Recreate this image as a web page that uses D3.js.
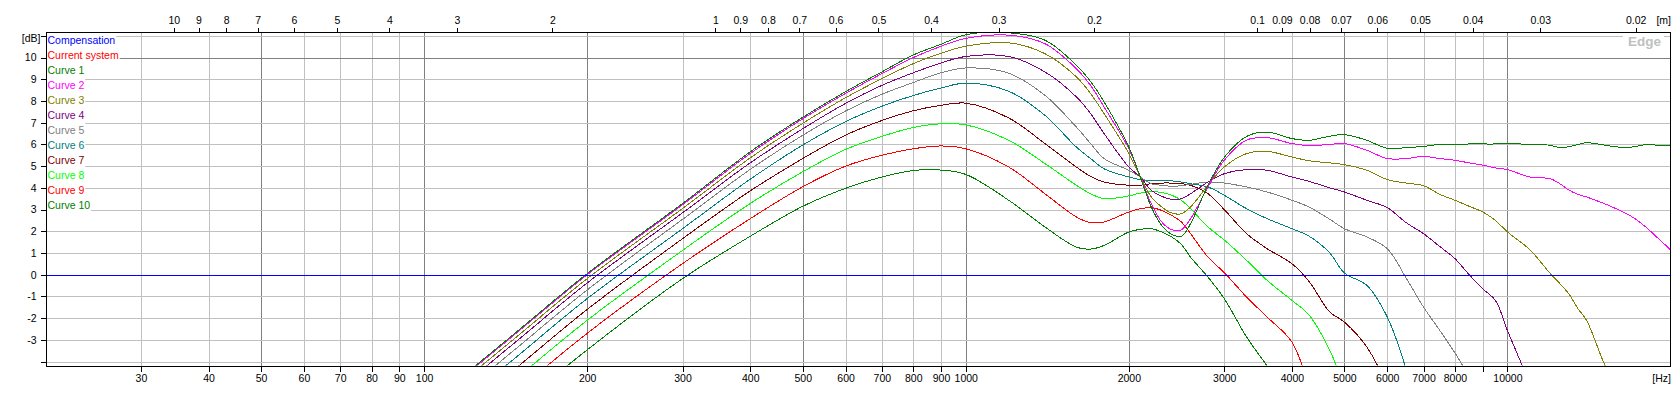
<!DOCTYPE html>
<html>
<head>
<meta charset="utf-8">
<script src="https://cdn.jsdelivr.net/npm/d3@7"></script>
<style>
  html, body { margin: 0; padding: 0; background: #ffffff; }
  svg { display: block; }
  text { font-family: "Liberation Sans", Arial, sans-serif; font-size: 10.5px; }
</style>
</head>
<body>
<svg id="chart" width="1674" height="397"></svg>
<script>
// ---------------- data ----------------
const freqHz = [100,125,150,200,300,400,500,600,700,800,900,1000,1200,1400,1600,1700,1800,2000,2100,2200,2300,2400,2500,2600,2800,3000,3300,3600,4000,4300,4700,5000,5500,6000,6500,7000,7500,8000,8500,9000,9500,10000,11000,12000,12500,13000,13500,14000,15000,16000,17000,18000,19000,20000];

const curve1 = [-6.15,-4.15,-2.52,0.05,3.28,5.66,7.25,8.43,9.34,10.12,10.61,11.05,11.14,10.8,9.65,8.9,7.96,5.88,4.5,3.12,2.27,1.86,1.77,2.35,4.12,5.4,6.37,6.57,6.27,6.19,6.38,6.45,6.19,5.82,5.85,5.91,6.0,6.0,6.02,6.02,6.02,6.04,6.0,5.96,5.85,5.9,6.0,6.08,5.98,5.88,5.88,5.99,5.96,5.93];
const curve2 = [-6.2,-4.2,-2.57,0.0,3.22,5.58,7.18,8.35,9.26,10.0,10.52,10.88,11.03,10.64,9.49,8.72,7.73,5.8,4.5,3.27,2.43,2.07,2.07,2.58,4.04,5.27,6.2,6.31,6.04,5.95,6.0,6.04,5.73,5.35,5.35,5.45,5.35,5.27,5.15,5.05,4.92,4.84,4.5,4.42,4.19,3.89,3.7,3.58,3.3,3.0,2.66,2.2,1.66,1.15];
const curve3 = [null,-4.38,-2.75,-0.18,3.05,5.38,6.97,8.15,9.03,9.72,10.2,10.52,10.68,10.18,9.11,8.34,7.42,5.58,4.5,3.58,3.12,2.84,2.81,3.12,4.12,4.96,5.58,5.68,5.42,5.25,5.15,5.07,4.81,4.38,4.22,4.1,3.7,3.43,3.15,2.89,2.5,1.97,1.15,0.05,-0.41,-0.9,-1.57,-2.1,-3.95,-5.5,null,null,null,null];
const curve4 = [null,-4.58,-2.95,-0.38,2.85,5.15,6.72,7.89,8.72,9.3,9.75,10.05,10.05,9.34,8.19,7.42,6.5,4.96,4.5,3.89,3.61,3.47,3.5,3.73,4.27,4.65,4.84,4.81,4.5,4.3,4.0,3.81,3.43,3.09,2.4,1.89,1.3,0.74,0.0,-0.65,-1.18,-2.57,-5.0,null,null,null,null,null,null,null,null,null,null,null];
const curve5 = [null,-4.9,-3.27,-0.7,2.55,4.85,6.42,7.54,8.31,8.85,9.3,9.52,9.28,8.26,6.8,6.04,5.35,4.81,4.5,4.19,4.12,4.07,4.1,4.16,4.27,4.22,4.04,3.81,3.43,3.12,2.55,2.12,1.74,1.2,-0.15,-1.49,-2.56,-3.6,-4.7,null,null,null,null,null,null,null,null,null,null,null,null,null,null,null];
const curve6 = [null,-5.3,-3.67,-1.1,2.12,4.4,5.97,7.05,7.76,8.25,8.6,8.82,8.45,7.34,5.88,5.35,4.88,4.5,4.38,4.32,4.32,4.32,4.27,4.19,4.04,3.66,3.04,2.58,2.12,1.78,1.0,0.08,-0.49,-1.95,-4.35,null,null,null,null,null,null,null,null,null,null,null,null,null,null,null,null,null,null,null];
const curve7 = [null,-5.8,-4.17,-1.6,1.66,3.86,5.35,6.43,7.1,7.55,7.8,7.9,7.22,6.04,4.96,4.53,4.27,4.12,4.12,4.19,4.22,4.22,4.19,4.12,3.73,3.0,1.89,1.2,0.51,-0.3,-1.72,-2.18,-3.33,-5.1,null,null,null,null,null,null,null,null,null,null,null,null,null,null,null,null,null,null,null,null];
const curve8 = [null,null,-4.67,-2.1,1.12,3.28,4.74,5.77,6.37,6.78,6.95,6.9,6.19,5.12,4.12,3.73,3.5,3.63,3.76,3.82,3.79,3.66,3.43,3.04,2.2,1.6,0.66,-0.26,-1.18,-1.85,-3.49,-5.2,null,null,null,null,null,null,null,null,null,null,null,null,null,null,null,null,null,null,null,null,null,null];
const curve9 = [null,null,-5.27,-2.7,0.51,2.58,4.05,5.0,5.5,5.8,5.93,5.8,4.96,3.73,2.66,2.4,2.43,2.89,3.04,3.09,2.96,2.73,2.43,1.89,0.81,0.1,-1.03,-1.95,-3.1,-5.2,null,null,null,null,null,null,null,null,null,null,null,null,null,null,null,null,null,null,null,null,null,null,null,null];
const curve10 = [null,null,-6.0,-3.46,-0.18,1.77,3.15,3.98,4.5,4.8,4.82,4.62,3.43,2.2,1.27,1.18,1.35,1.97,2.09,2.12,1.97,1.74,1.4,0.81,-0.11,-1.1,-2.87,-4.2,-5.8,null,null,null,null,null,null,null,null,null,null,null,null,null,null,null,null,null,null,null,null,null,null,null,null,null];

const compensationHz = [20, 20000];
const compensationDb = [0, 0];

const legendNames = ["Compensation","Current system","Curve 1","Curve 2","Curve 3","Curve 4","Curve 5","Curve 6","Curve 7","Curve 8","Curve 9","Curve 10"];
const legendColors = ["#0000ff","#ff0000","#008000","#ff00ff","#808000","#800080","#808080","#008080","#800000","#00ff00","#ff0000","#008000"];
const curveSeries = [curve1,curve2,curve3,curve4,curve5,curve6,curve7,curve8,curve9,curve10];
const curveColors = legendColors.slice(2);

const dbTicks = [-4,-3,-2,-1,0,1,2,3,4,5,6,7,8,9,10,11];
const dbLabels = ["","-3","-2","-1","0","1","2","3","4","5","6","7","8","9","10",""];
const dbMajor = [0,10];

const hzTicks = [30,40,50,60,70,80,90,100,200,300,400,500,600,700,800,900,1000,2000,3000,4000,5000,6000,7000,8000,9000,10000];
const hzLabels = ["30","40","50","60","70","80","90","100","200","300","400","500","600","700","800","900","1000","2000","3000","4000","5000","6000","7000","8000","","10000"];
const hzMajor = [50,100,200,500,1000,2000,5000,10000];

const soundSpeed = 345;
const mTicks = [10,9,8,7,6,5,4,3,2,1,0.9,0.8,0.7,0.6,0.5,0.4,0.3,0.2,0.1,0.09,0.08,0.07,0.06,0.05,0.04,0.03,0.02];
const mLabels = ["10","9","8","7","6","5","4","3","2","1","0.9","0.8","0.7","0.6","0.5","0.4","0.3","0.2","0.1","0.09","0.08","0.07","0.06","0.05","0.04","0.03","0.02"];

// ---------------- layout ----------------
const L = 45.5, R = 1670.5, T = 31.5, B = 365.5;
const svg = d3.select("#chart");
const x = d3.scaleLog().domain([20, 20000]).range([L, R]);
const y = d3.scaleLinear().domain([-4.18, 11.2]).range([B, T]);

svg.append("rect").attr("width",1674).attr("height",397).attr("fill","#fff");

// grid
const grid = svg.append("g").attr("shape-rendering","crispEdges");
const gx = hzTicks.slice().sort((a,b)=>hzMajor.includes(a)-hzMajor.includes(b));
grid.selectAll("line.v").data(gx).join("line")
  .attr("x1", d=>Math.round(x(d))+0.5).attr("x2", d=>Math.round(x(d))+0.5)
  .attr("y1", T).attr("y2", B)
  .attr("stroke", d=>hzMajor.includes(d) ? "#808080" : "#c0c0c0");
const gy = dbTicks.slice().sort((a,b)=>dbMajor.includes(a)-dbMajor.includes(b));
grid.selectAll("line.h").data(gy).join("line")
  .attr("x1", L).attr("x2", R)
  .attr("y1", d=>Math.round(y(d))+0.5).attr("y2", d=>Math.round(y(d))+0.5)
  .attr("stroke", d=>dbMajor.includes(d) ? "#808080" : "#c0c0c0");

// legend
const leg = svg.append("g");
legendNames.forEach((name,i)=>{
  const cy = 40 + 15*i;
  const g = leg.append("g");
  const r = g.append("rect").attr("x",46).attr("y",cy-7.5).attr("height",15).attr("fill","#fff");
  const t = g.append("text").attr("x",47.5).attr("y",cy+4).attr("fill",legendColors[i]).text(name);
  r.attr("width", t.node().getComputedTextLength()+2.5);
});

// "Edge" watermark
svg.append("rect").attr("x",1623).attr("y",33).attr("width",41).attr("height",15).attr("fill","#fff");
svg.append("text").attr("x",1628).attr("y",45.5).attr("fill","#c0c0c0")
  .style("font-weight","bold").style("font-size","13.5px").text("Edge");

// curves
svg.append("defs").append("clipPath").attr("id","plotclip")
  .append("rect").attr("x",L).attr("y",T).attr("width",R-L).attr("height",B-T);
const plot = svg.append("g").attr("clip-path","url(#plotclip)");
const line = d3.line()
  .defined(d=>d[1]!=null)
  .x(d=>x(d[0])).y(d=>y(d[1]))
  .curve(d3.curveCatmullRom.alpha(0.5));
for (let k = curveSeries.length-1; k >= 0; k--) {
  const pts = freqHz.map((f,i)=>[f, curveSeries[k][i]]);
  plot.append("path").attr("d", line(pts)).attr("fill","none")
    .attr("stroke", curveColors[k]).attr("stroke-width",1)
    .attr("shape-rendering","crispEdges");
}
plot.append("path")
  .attr("d", d3.line().x(d=>x(d[0])).y(d=>Math.round(y(d[1]))+0.5)(compensationHz.map((f,i)=>[f,compensationDb[i]])))
  .attr("fill","none").attr("stroke","#0000ff").attr("stroke-width",1).attr("shape-rendering","crispEdges");

// axes
const axL = d3.axisLeft(y).tickValues(dbTicks).tickFormat((d,i)=>dbLabels[i]).tickSize(5).tickPadding(4).tickSizeOuter(0);
const gL = svg.append("g").attr("transform",`translate(${L},0)`).call(axL);
const axB = d3.axisBottom(x).tickValues(hzTicks).tickFormat((d,i)=>hzLabels[i]).tickSize(6).tickPadding(3).tickSizeOuter(0);
const gB = svg.append("g").attr("transform",`translate(0,${B})`).call(axB);
const axT = d3.axisTop(x).tickValues(mTicks.map(m=>soundSpeed/m)).tickFormat((d,i)=>mLabels[i]).tickSize(4).tickPadding(3.5).tickSizeOuter(0);
const gT = svg.append("g").attr("transform",`translate(0,${T})`).call(axT);
[gL,gB,gT].forEach(g=>{
  g.attr("shape-rendering","crispEdges");
  g.selectAll("path.domain").attr("stroke","#000");
  g.selectAll(".tick line").attr("stroke","#000");
  g.selectAll("text").attr("fill","#000").style("font-family",'"Liberation Sans", Arial, sans-serif').style("font-size","10.5px");
});
// right frame
svg.append("line").attr("x1",R).attr("x2",R).attr("y1",T).attr("y2",B).attr("stroke","#000").attr("shape-rendering","crispEdges");

// unit labels
svg.append("text").attr("x",40.5).attr("y",42).attr("text-anchor","end").text("[dB]");
svg.append("text").attr("x",1671).attr("y",24).attr("text-anchor","end").text("[m]");
svg.append("text").attr("x",1671).attr("y",381.5).attr("text-anchor","end").text("[Hz]");
</script>
</body>
</html>
